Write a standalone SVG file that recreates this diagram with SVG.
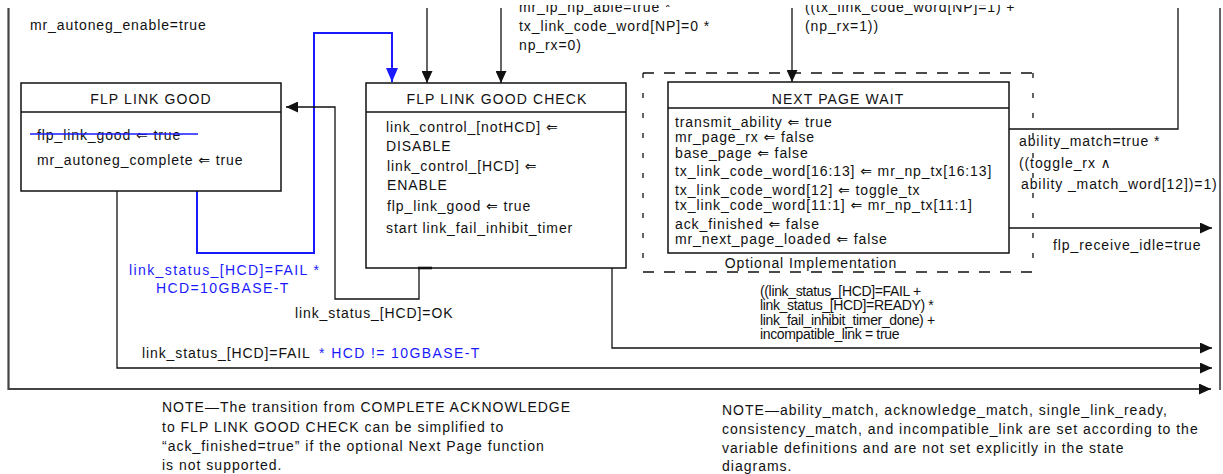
<svg xmlns="http://www.w3.org/2000/svg" width="1223" height="474" viewBox="0 0 1223 474">
<defs>
<style>
text{font-family:"Liberation Sans",Arial,"DejaVu Sans",sans-serif;font-size:14px;fill:#111;letter-spacing:0.9px}
.title{letter-spacing:1.1px}
.blue{fill:#1a1aff;letter-spacing:1.4px}
.cond{letter-spacing:-0.35px}
.note{letter-spacing:1px}
.ar{font-family:"DejaVu Sans",sans-serif;font-size:14px;letter-spacing:0.9px}
.box{fill:#fff;stroke:#111;stroke-width:1.5}
.ln{fill:none;stroke:#111;stroke-width:1.3}
.bl{fill:none;stroke:#1a1aff;stroke-width:2}
.gray{fill:none;stroke:#444;stroke-width:2.2}
.dh{fill:none;stroke:#111;stroke-width:1.3;stroke-dasharray:11 10}
.dv{fill:none;stroke:#111;stroke-width:1.3;stroke-dasharray:5 15}
</style>
<marker id="arr" markerUnits="userSpaceOnUse" markerWidth="13" markerHeight="11" refX="12" refY="5.5" orient="auto"><path d="M0,0 L12,5.5 L0,11 z" fill="#111"/></marker>
<marker id="arrb" markerUnits="userSpaceOnUse" markerWidth="15" markerHeight="13" refX="14" refY="6" orient="auto"><path d="M0,0 L14,6 L0,12 z" fill="#1a1aff"/></marker>
<clipPath id="topclip"><rect x="0" y="5" width="1223" height="469"/></clipPath>
</defs>
<rect width="1223" height="474" fill="#fff"/>

<g id="connectors">
<path class="gray" d="M8.5,8 V389 H1211" marker-end="url(#arr)"/>
<path class="ln" d="M1220,8 V390"/>
<path class="ln" d="M427,8 V83" marker-end="url(#arr)"/>
<path class="ln" d="M501,8 V83" marker-end="url(#arr)"/>
<path class="ln" d="M792,8 V82" marker-end="url(#arr)"/>
<path class="bl" d="M197,191 V253 H314 V33 H392 V82" marker-end="url(#arrb)"/>
<path class="ln" d="M419,268 V299 H335 V107 H286" marker-end="url(#arr)"/>
<path class="ln" d="M117,191 V368 H1212" marker-end="url(#arr)"/>
<path class="ln" d="M612,268 V348 H1212" marker-end="url(#arr)"/>
<path class="ln" d="M1009,129 H1178 V8"/>
<path class="ln" d="M1009,228 H1212" marker-end="url(#arr)"/>
</g>

<g id="flp-link-good">
<rect class="box" x="21" y="83" width="260" height="108"/>
<line class="ln" x1="21" y1="112" x2="281" y2="112"/>
<text class="title" x="151" y="104" text-anchor="middle">FLP LINK GOOD</text>
<text x="37" y="140">flp_link_good <tspan class="ar">⇐</tspan> true</text>
<line x1="30" y1="134" x2="198" y2="134" stroke="#1a1aff" stroke-width="1.6"/>
<text x="37" y="165">mr_autoneg_complete <tspan class="ar">⇐</tspan> true</text>
</g>

<g id="flp-link-good-check">
<rect class="box" x="366" y="83" width="260" height="185"/>
<line class="ln" x1="366" y1="112" x2="626" y2="112"/>
<line x1="418" y1="268" x2="432" y2="268" stroke="#111" stroke-width="2.6"/>
<text class="title" x="497" y="104" text-anchor="middle">FLP LINK GOOD CHECK</text>
<text x="386" y="132">link_control_[notHCD] <tspan class="ar">⇐</tspan></text>
<text x="386" y="151">DISABLE</text>
<text x="387" y="171">link_control_[HCD] <tspan class="ar">⇐</tspan></text>
<text x="387" y="190">ENABLE</text>
<text x="387" y="211">flp_link_good <tspan class="ar">⇐</tspan> true</text>
<text x="386" y="233">start link_fail_inhibit_timer</text>
</g>

<g id="optional-implementation">
<path class="dh" d="M643,73 H1033"/>
<path class="dh" d="M643,272 H1033"/>
<path class="dv" d="M643,73 V272"/>
<path class="dv" d="M1033,73 V272"/>
<text x="811" y="268" text-anchor="middle">Optional Implementation</text>
</g>

<g id="next-page-wait">
<rect class="box" x="668" y="82" width="341" height="171"/>
<line class="ln" x1="668" y1="108" x2="1009" y2="108"/>
<text class="title" x="838" y="104" text-anchor="middle">NEXT PAGE WAIT</text>
<text x="675" y="127">transmit_ability <tspan class="ar">⇐</tspan> true</text>
<text x="675" y="142">mr_page_rx <tspan class="ar">⇐</tspan> false</text>
<text x="675" y="158">base_page <tspan class="ar">⇐</tspan> false</text>
<text x="675" y="176">tx_link_code_word[16:13] <tspan class="ar">⇐</tspan> mr_np_tx[16:13]</text>
<text x="675" y="195">tx_link_code_word[12] <tspan class="ar">⇐</tspan> toggle_tx</text>
<text x="675" y="210">tx_link_code_word[11:1] <tspan class="ar">⇐</tspan> mr_np_tx[11:1]</text>
<text x="675" y="229">ack_finished <tspan class="ar">⇐</tspan> false</text>
<text x="675" y="244">mr_next_page_loaded <tspan class="ar">⇐</tspan> false</text>
</g>

<g id="labels">
<text x="30" y="30">mr_autoneg_enable=true</text>
<g clip-path="url(#topclip)">
<text x="519" y="12">mr_lp_np_able=true *</text>
<text x="805" y="12">((tx_link_code_word[NP]=1) +</text>
</g>
<text x="519" y="31">tx_link_code_word[NP]=0 *</text>
<text x="519" y="50">np_rx=0)</text>
<text x="805" y="31">(np_rx=1))</text>
<text x="1019" y="146">ability_match=true *</text>
<text x="1019" y="168">((toggle_rx ∧</text>
<text x="1021" y="189">ability _match_word[12])=1)</text>
<text x="1053" y="250">flp_receive_idle=true</text>
<text class="blue" x="129" y="275">link_status_[HCD]=FAIL *</text>
<text class="blue" x="156" y="293">HCD=10GBASE-T</text>
<text x="295" y="318">link_status_[HCD]=OK</text>
<text x="142" y="358">link_status_[HCD]=FAIL</text>
<text class="blue" x="319" y="358">* HCD != 10GBASE-T</text>
<text class="cond" x="760" y="296">((link_status_[HCD]=FAIL +</text>
<text class="cond" x="760" y="310">link_status_[HCD]=READY) *</text>
<text class="cond" x="760" y="325">link_fail_inhibit_timer_done) +</text>
<text class="cond" x="760" y="339">incompatible_link = true</text>
</g>

<g id="notes">
<text class="note" x="162" y="412">NOTE—The transition from COMPLETE ACKNOWLEDGE</text>
<text class="note" x="162" y="432">to FLP LINK GOOD CHECK can be simplified to</text>
<text class="note" x="162" y="451">“ack_finished=true” if the optional Next Page function</text>
<text class="note" x="162" y="470">is not supported.</text>
<text class="note" x="722" y="415">NOTE—ability_match, acknowledge_match, single_link_ready,</text>
<text class="note" x="722" y="434">consistency_match, and incompatible_link are set according to the</text>
<text class="note" x="722" y="453">variable definitions and are not set explicitly in the state</text>
<text class="note" x="722" y="471">diagrams.</text>
</g>
</svg>
